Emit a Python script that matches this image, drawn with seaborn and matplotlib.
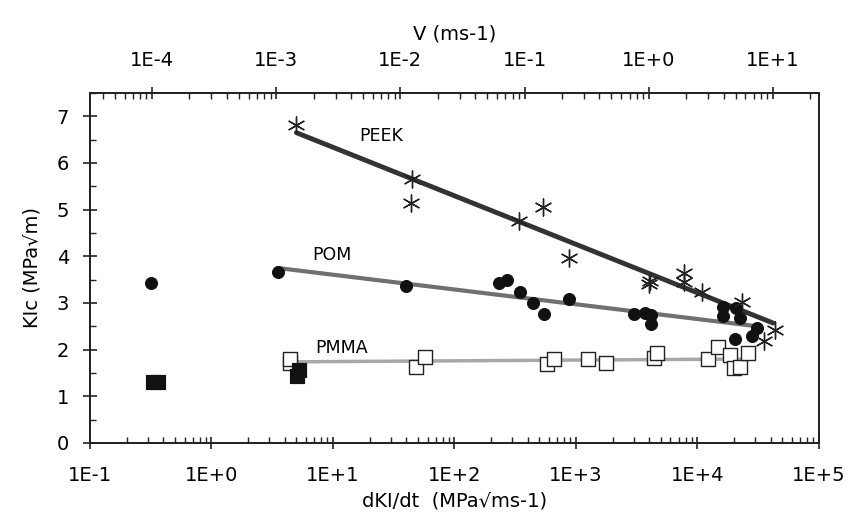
import numpy as np
import matplotlib
matplotlib.use('Agg')
import matplotlib.pyplot as plt
import matplotlib.ticker as mticker
import seaborn as sns

# PEEK (asterisks)
peek_x = [5.0, 44.7, 44.0, 339, 537, 871, 4070, 3980, 7760, 7760, 11000, 23400, 35500, 43600]
peek_y = [6.82, 5.66, 5.15, 4.76, 5.06, 3.97, 3.47, 3.40, 3.65, 3.46, 3.24, 3.03, 2.19, 2.42]

# POM (filled circles)
pom_x = [0.316, 3.5, 40, 234, 269, 347, 447, 550, 871, 3020, 3715, 4170, 4170,
         16200, 16200, 20900, 22400, 20400, 28200, 30900]
pom_y = [3.43, 3.67, 3.37, 3.43, 3.50, 3.24, 3.00, 2.77, 3.09, 2.77, 2.79, 2.75, 2.55,
         2.92, 2.73, 2.89, 2.68, 2.23, 2.30, 2.47]

# PMMA (open squares)
pmma_x = [4.4, 4.4, 48, 57.5, 575, 660, 1260, 1780, 4365, 4680, 12300, 14800, 18600,
          20000, 22400, 26300]
pmma_y = [1.72, 1.80, 1.63, 1.85, 1.70, 1.80, 1.80, 1.72, 1.82, 1.93, 1.80, 2.06, 1.89,
          1.61, 1.63, 1.93]

# PMMA filled squares
pmma_f_x = [0.33, 0.36, 5.25, 5.1]
pmma_f_y = [1.31, 1.31, 1.57, 1.44]

# fitted lines (end points)
peek_fit_x = [5.0, 42000]
peek_fit_y = [6.65, 2.57]
pom_fit_x = [3.5, 29000]
pom_fit_y = [3.75, 2.51]
pmma_fit_x = [5.2, 28000]
pmma_fit_y = [1.74, 1.80]

bottom_ticks = [1e-1, 1e0, 1e1, 1e2, 1e3, 1e4, 1e5]
bottom_labels = ['1E-1', '1E+0', '1E+1', '1E+2', '1E+3', '1E+4', '1E+5']
top_ticks = [1e-4, 1e-3, 1e-2, 1e-1, 1e0, 1e1]
top_labels = ['1E-4', '1E-3', '1E-2', '1E-1', '1E+0', '1E+1']

sns.set_style('ticks')
plt.rcParams['font.family'] = ['DejaVu Sans']
plt.rcParams['text.color'] = 'black'

fig = plt.figure(figsize=(8.52, 5.29), dpi=100)
ax = fig.add_axes([0.1056, 0.1626, 0.8556, 0.6616])

# fit lines
sns.lineplot(x=peek_fit_x, y=peek_fit_y, ax=ax, color='#333333', lw=3.5, zorder=2)
sns.lineplot(x=pom_fit_x, y=pom_fit_y, ax=ax, color='#707070', lw=3, zorder=2)
sns.lineplot(x=pmma_fit_x, y=pmma_fit_y, ax=ax, color='#a8a8a8', lw=2.5, zorder=2)

# points
sns.scatterplot(x=pom_x, y=pom_y, ax=ax, marker='o', s=75, color='#111111',
                edgecolor='#111111', zorder=3)
sns.scatterplot(x=pmma_x, y=pmma_y, ax=ax, marker='s', s=110, facecolor='white',
                edgecolor='#222222', linewidth=1, zorder=3)
sns.scatterplot(x=pmma_f_x, y=pmma_f_y, ax=ax, marker='s', s=110, color='#111111',
                edgecolor='#111111', zorder=3)
ax.scatter(peek_x, peek_y, marker=(6, 2, 0), s=150, color='#222222', linewidth=1, zorder=4)

ax.text(25, 6.57, 'PEEK', fontsize=12.5, ha='center', va='center')
ax.text(9.8, 4.03, 'POM', fontsize=12.5, ha='center', va='center')
ax.text(11.7, 2.04, 'PMMA', fontsize=12.5, ha='center', va='center')

ax.set_xscale('log')
ax.set_xlim(1e-1, 1e5)
ax.set_ylim(0, 7.5)
ax.xaxis.set_major_locator(mticker.FixedLocator(bottom_ticks))
ax.xaxis.set_major_formatter(mticker.FixedFormatter(bottom_labels))
ax.xaxis.set_minor_locator(mticker.LogLocator(base=10, subs=np.arange(2, 10), numticks=20))
ax.xaxis.set_minor_formatter(mticker.NullFormatter())
ax.yaxis.set_major_locator(mticker.MultipleLocator(1))
ax.yaxis.set_minor_locator(mticker.MultipleLocator(0.5))

ax.tick_params(axis='x', which='major', direction='inout', length=9, width=1.2,
               labelsize=14, pad=12, color='#222222', labelcolor='black')
ax.tick_params(axis='x', which='minor', direction='in', length=4, width=1, color='#222222')
ax.tick_params(axis='y', which='major', direction='inout', length=10, width=1.2,
               labelsize=14, pad=10, color='#222222', labelcolor='black')
ax.tick_params(axis='y', which='minor', direction='in', length=4, width=1, color='#222222')
ax.tick_params(right=False, which='both')

ax.set_xlabel('dKI/dt  (MPa\u221ams-1)', fontsize=14, labelpad=5, color='black')
ax.set_ylabel('KIc (MPa\u221am)', fontsize=14, labelpad=11, color='black')
for s in ax.spines.values():
    s.set_color('#222222')
    s.set_linewidth(1.3)

# top axis V
ax2 = ax.twiny()
ax2.set_xscale('log')
ax2.set_xlim(10 ** -4.5, 10 ** 1.37)
ax2.xaxis.set_major_locator(mticker.FixedLocator(top_ticks))
ax2.xaxis.set_major_formatter(mticker.FixedFormatter(top_labels))
ax2.xaxis.set_minor_locator(mticker.LogLocator(base=10, subs=np.arange(2, 10), numticks=20))
ax2.xaxis.set_minor_formatter(mticker.NullFormatter())
ax2.tick_params(axis='x', which='major', direction='inout', length=9, width=1.2,
                labelsize=14, pad=12, color='#222222', labelcolor='black')
ax2.tick_params(axis='x', which='minor', direction='in', length=4, width=1, color='#222222')
ax2.set_xlabel('V (ms-1)', fontsize=14, labelpad=8, color='black')
for s in ax2.spines.values():
    s.set_color('#222222')
    s.set_linewidth(1.3)

fig.savefig('out.png', dpi=100)
